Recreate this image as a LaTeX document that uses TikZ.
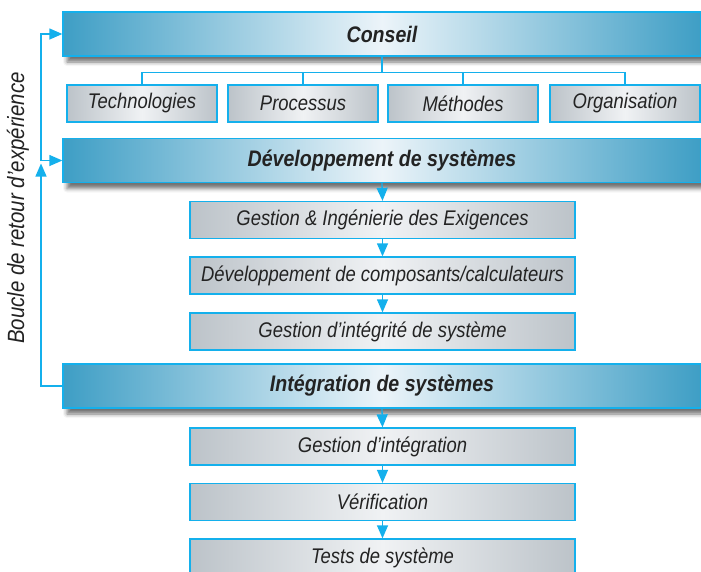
\documentclass[tikz,border=0pt]{standalone}
\usepackage{fontspec}
\newfontfamily\helv[FakeStretch=0.87]{Liberation Sans}
\usepackage{tikz}
\usetikzlibrary{calc,arrows.meta,shadows.blur}

\definecolor{edgecyan}{RGB}{20,176,236}
\definecolor{bardark}{RGB}{62,158,197}
\definecolor{barlight}{RGB}{236,244,249}
\definecolor{boxdark}{RGB}{188,195,201}
\definecolor{boxlight}{RGB}{240,242,244}
\definecolor{txt}{RGB}{35,35,35}

\begin{document}
\begin{tikzpicture}[x=1pt,y=-1pt,
	bar/.style={draw=edgecyan,line width=1.3pt,inner sep=0pt,minimum width=638pt,minimum height=44pt,
		left color=bardark,right color=bardark,middle color=barlight,
		blur shadow={shadow xshift=4pt,shadow yshift=-6pt,shadow opacity=55,shadow blur radius=4pt},
		text=txt,font=\helv\bfseries\itshape\fontsize{22.5}{26}\selectfont},
	item/.style={draw=edgecyan,line width=1.3pt,inner sep=0pt,minimum height=37pt,
		left color=boxdark,right color=boxdark,middle color=boxlight,
		text=txt,font=\helv\itshape\fontsize{21.2}{25}\selectfont},
	link/.style={edgecyan,line width=1.3pt},
	flow/.style={link,-{Triangle[width=11pt,length=13pt]}}]
	\useasboundingbox (0,0) rectangle (701,571);

	\node [bar](Cons) at (382,34) {Conseil};
	\node [item,minimum width=150pt](Tech) at (142,103.5) {Technologies};
	\node [item,minimum width=150pt](Proc) at (303,103.5) {Processus};
	\node [item,minimum width=150pt](Meth) at (463,103.5) {Méthodes};
	\node [item,minimum width=150pt](Org) at (625,103.5) {Organisation};

	\node [bar](Dev) at (382,160.5) {Développement de systèmes};
	\node [item,minimum width=385pt](GIE) at (382.5,220) {Gestion \& Ingénierie des Exigences};
	\node [item,minimum width=385pt](DCC) at (382.5,275.5) {Développement de composants/calculateurs};
	\node [item,minimum width=385pt](GIS) at (382.5,331.5) {Gestion d’intégrité de système};

	\node [bar](Int) at (382,386) {Intégration de systèmes};
	\node [item,minimum width=385pt](GI) at (382.5,446.5) {Gestion d’intégration};
	\node [item,minimum width=385pt](Ver) at (382.5,502) {Vérification};
	\node [item,minimum width=385pt](TS) at (382.5,557.5) {Tests de système};

	\node [rotate=90,text=txt,font=\helv\itshape\fontsize{23.5}{27}\selectfont](Loop) at (18,208) {Boucle de retour d’expérience};

	\coordinate (Split) at ($(Cons.south)+(0,16)$);
	\draw [link] (Cons.south) -- (Split);
	\draw [link] (Split) -| (Tech.north);
	\draw [link] (Split) -| (Proc.north);
	\draw [link] (Split) -| (Meth.north);
	\draw [link] (Split) -| (Org.north);

	\draw [flow] (Dev.south) -- (GIE.north);
	\draw [flow] (GIE.south) -- (DCC.north);
	\draw [flow] (DCC.south) -- (GIS.north);
	\draw [flow] (Int.south) -- (GI.north);
	\draw [flow] (GI.south) -- (Ver.north);
	\draw [flow] (Ver.south) -- (TS.north);

	\coordinate (LB) at (41,386);
	\coordinate (LM) at (41,160.5);
	\coordinate (LT) at (41,34);
	\draw [flow] (Int.west) -- (LB) -- ($(LM)+(0,3)$);
	\draw [flow] (LM) -- (LT) -- (Cons.west);
	\draw [flow] (LM) -- (Dev.west);
	\end{tikzpicture}
\end{document}
